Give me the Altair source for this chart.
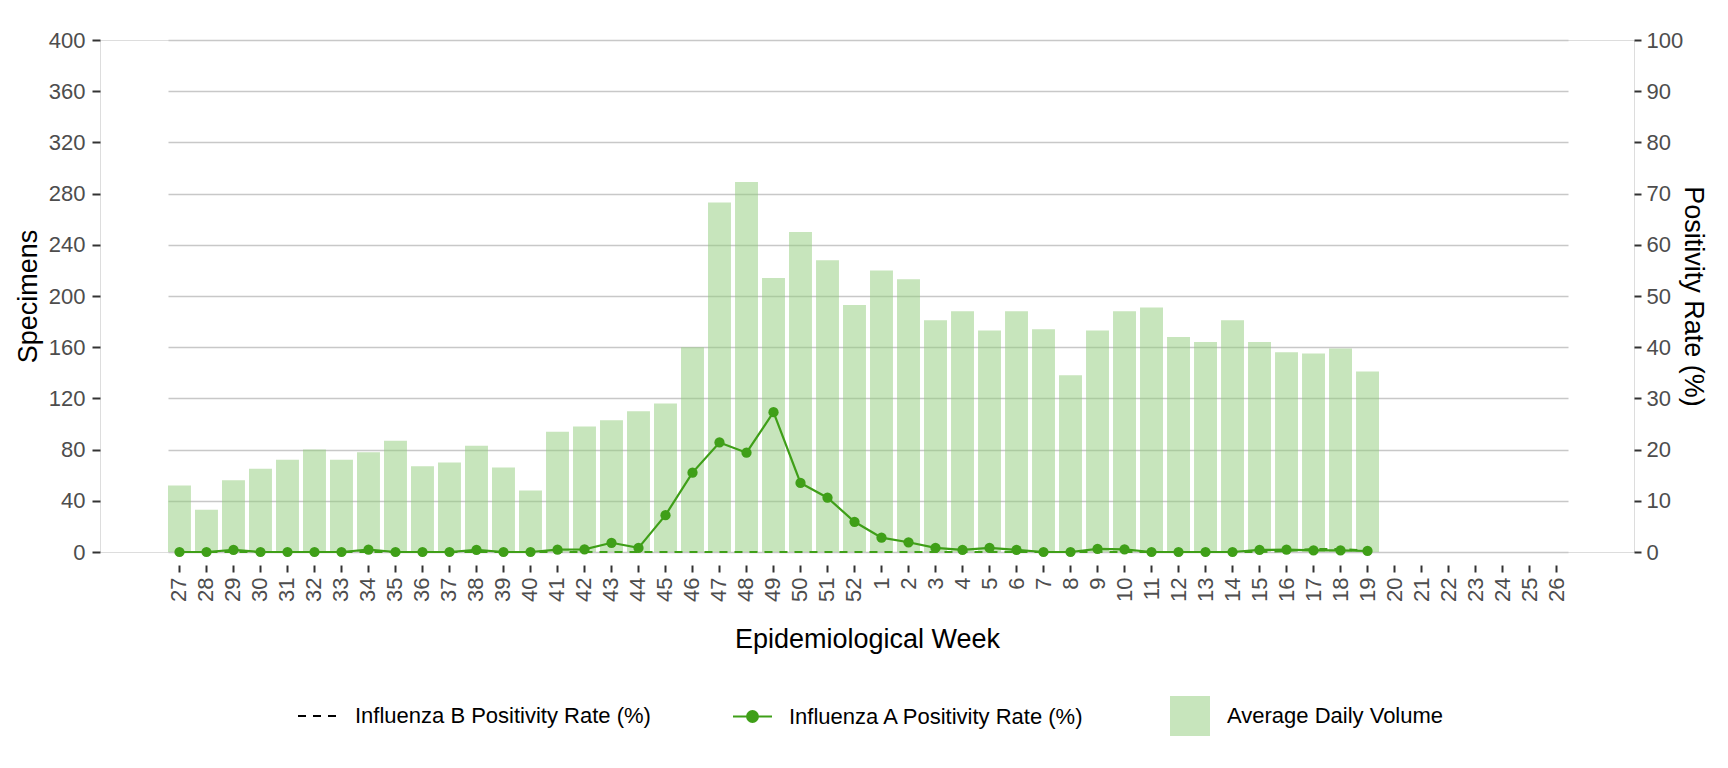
import altair as alt
import pandas as pd

# ---- data ----
weeks = [str(w) for w in list(range(27, 53)) + list(range(1, 27))]
data_weeks = [str(w) for w in list(range(27, 53)) + list(range(1, 20))]
volume = [52, 33, 56, 65, 72, 80, 72, 78, 87, 67, 70, 83, 66, 48, 94, 98, 103, 110,
          116, 160, 273, 289, 214, 250, 228, 193,
          220, 213, 181, 188, 173, 188, 174, 138, 173, 188, 191, 168, 164, 181, 164,
          156, 155, 159, 141]
flu_a = [0, 0, 0.4, 0, 0, 0, 0, 0.45, 0, 0, 0, 0.4, 0, 0, 0.45, 0.5, 1.8, 0.8,
         7.2, 15.5, 21.4, 19.4, 27.3, 13.5, 10.6, 5.9,
         2.8, 1.9, 0.8, 0.4, 0.8, 0.4, 0, 0, 0.6, 0.5, 0, 0, 0, 0, 0.4,
         0.45, 0.3, 0.3, 0.2]
flu_b = [0, 0, 0, 0, 0, 0, 0, 0, 0, 0, 0, 0, 0, 0, 0, 0, 0, 0,
         0, 0, 0, 0, 0, 0, 0, 0,
         0, 0, 0, 0, 0, 0, 0, 0, 0, 0, 0, 0, 0, 0, 0,
         0.2, 0.6, 0.6, 0.3]

label_b = "Influenza B Positivity Rate (%)"
label_a = "Influenza A Positivity Rate (%)"
label_v = "Average Daily Volume"

df = pd.DataFrame({
    "week": data_weeks,
    "idx": list(range(len(data_weeks))),
    "volume": volume,
    "fluA": flu_a,
    "fluB": flu_b,
    "labA": label_a,
    "labB": label_b,
    "labV": label_v,
})

GREEN = "#3f9f18"
FONT = "Liberation Sans"

x_enc = alt.X(
    "week:N",
    scale=alt.Scale(domain=weeks, paddingInner=0.15, paddingOuter=0, range=[68, 1468]),
    axis=alt.Axis(
        title="Epidemiological Week", labelAngle=270, offset=13, tickSize=7,
        tickWidth=2, tickColor="#333333", grid=False, domain=False,
        labelPadding=5, labelFontSize=22, labelColor="#4d4d4d", labelFont=FONT,
        titleFontSize=27, titleFont=FONT, titleColor="black", titleFontWeight="normal",
        titleX=767, titleY=74, titleBaseline="middle", titleAlign="center",
    ),
)

left_axis = alt.Axis(
    title="Specimens", values=list(range(0, 401, 40)), grid=True,
    gridColor="#c8c8c8", gridWidth=1.6, domain=False, tickColor="#333333",
    tickWidth=2, tickSize=8, labelFontSize=22, labelColor="#4d4d4d", labelFont=FONT,
    labelPadding=7, titleFontSize=27, titleFont=FONT, titleColor="black",
    titleFontWeight="normal", titleX=-72, titleY=256, titleAngle=270,
    titleBaseline="middle", titleAlign="center",
)

right_axis = alt.Axis(
    title="Positivity Rate (%)", orient="right", values=list(range(0, 101, 10)),
    grid=False, domain=False, tickColor="#333333", tickWidth=2, tickSize=7,
    labelFontSize=22, labelColor="#4d4d4d", labelFont=FONT, labelPadding=5,
    titleFontSize=27, titleFont=FONT, titleColor="black", titleFontWeight="normal",
    titleX=58, titleY=256, titleAngle=90, titleBaseline="middle", titleAlign="center",
)

legend_common = dict(
    title=None, orient="none", legendY=656, labelFontSize=22, labelFont=FONT,
    labelColor="black", labelLimit=600, padding=0,
)

bars = alt.Chart(df).mark_bar(opacity=0.5).encode(
    x=x_enc,
    y=alt.Y("volume:Q", scale=alt.Scale(domain=[0, 400]), axis=left_axis),
    fill=alt.Fill(
        "labV:N",
        scale=alt.Scale(domain=[label_v], range=["#8fcb7a"]),
        legend=alt.Legend(legendX=1070, symbolType="square", symbolSize=1600,
                          symbolOpacity=0.5, symbolStrokeWidth=0, labelOffset=17,
                          **legend_common),
    ),
)

yr = alt.Scale(domain=[0, 100])

line_b = alt.Chart(df).mark_line(color=GREEN, strokeWidth=2).encode(
    x=x_enc,
    y=alt.Y("fluB:Q", scale=yr, axis=right_axis),
    order=alt.Order("idx:Q"),
    strokeDash=alt.StrokeDash(
        "labB:N",
        scale=alt.Scale(domain=[label_b], range=[[8, 7]]),
        legend=alt.Legend(legendX=197, symbolType="stroke", symbolSize=1444,
                          symbolStrokeColor="black", symbolStrokeWidth=1.8,
                          labelOffset=18, **legend_common),
    ),
)

line_a = alt.Chart(df).mark_line(color=GREEN, strokeWidth=2.2).encode(
    x=x_enc,
    y=alt.Y("fluA:Q", scale=yr, axis=right_axis),
    order=alt.Order("idx:Q"),
)

sym_path = ("M-1,0L1,0M0.28,0A0.28,0.28,0,1,1,-0.28,0"
            "A0.28,0.28,0,1,1,0.28,0Z")

points_a = alt.Chart(df).mark_circle(size=105, opacity=1).encode(
    x=x_enc,
    y=alt.Y("fluA:Q", scale=yr, axis=right_axis),
    color=alt.Color(
        "labA:N",
        scale=alt.Scale(domain=[label_a], range=[GREEN]),
        legend=alt.Legend(legendX=632, symbolType=sym_path, symbolSize=1521,
                          symbolStrokeColor=GREEN, symbolStrokeWidth=2,
                          symbolFillColor=GREEN, labelOffset=16, **legend_common),
    ),
)

rates = alt.layer(line_b, line_a, points_a)

chart = alt.layer(bars, rates).resolve_scale(y="independent").properties(
    width=1534,
    height=512,
    padding={"left": 92, "top": 32, "right": 86, "bottom": 200},
    autosize=alt.AutoSizeParams(type="none"),
).configure_view(stroke=None).configure(font=FONT)

chart.save("out.html", embed_options={"renderer": "svg", "actions": False})
